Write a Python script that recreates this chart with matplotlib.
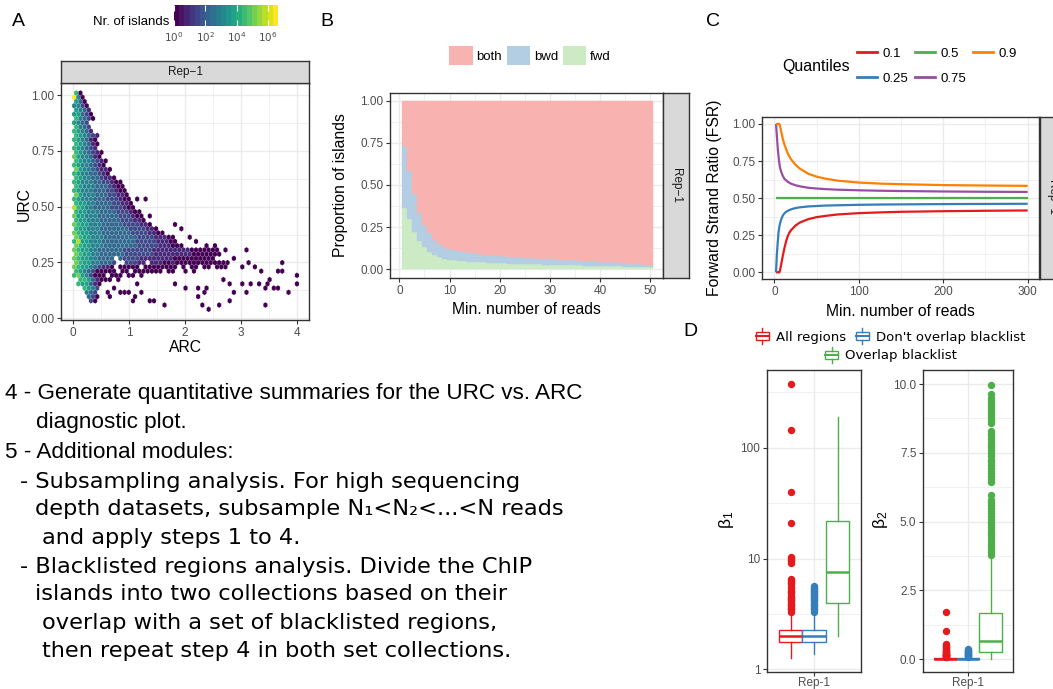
import numpy as np
import matplotlib
matplotlib.use("Agg")
import matplotlib.pyplot as plt
from matplotlib.colors import LogNorm
from matplotlib.patches import Rectangle, Patch
from matplotlib.lines import Line2D
from matplotlib.legend_handler import HandlerBase
from matplotlib.ticker import NullFormatter

plt.rcParams['font.family'] = ['Liberation Sans', 'DejaVu Sans']

# ======================= DATA =======================
# Panel A: hexbin URC vs ARC. One string per hex row (top row first);
# each char = colour level 0..9 (log-count = level*LOGMAX/9), '.' = empty hex.
HEX_X0, HEX_DX, HEX_Y0, HEX_DY = 0.02, 0.075, 0.04, 0.019
LOGMAX = 6.65
HEX_ROWS = [
    "60",
    "940",
    "530",
    "4420",
    "5431",
    "55320",
    "64320",
    "5432",
    "6432",
    "65431",
    "654321",
    "654310",
    "654310",
    "654321",
    "6543210",
    "7544310",
    "65443210",
    "65443210",
    "754432110",
    "654433210",
    "6544332110",
    "654443322100",
    "654443332100",
    "6544433322100",
    "7544433322110",
    "65444333222100.0.0",
    "65544333322110",
    "865443333222100",
    "6554443333222100",
    "75544433333222100.0",
    "65544433333222110",
    "7655444333332222110.....0",
    "65544433333332222110.....0",
    "7655444333333322221100",
    "765544433333333222211100...0",
    "6855444333333332222211100....0",
    "76554443333333322222111000.....0.0",
    "765544" "333333" "2222222" "111111111" "0000000" ".0....0",
    "765544" "333333" "2222222" "111111111" "0000000",
    "7655443333.32222" "111111110000" "000000" "....0",
    "7655443332..22211.1110010000000000000" "....0.......0",
    "76554" "32110.00000.0000000" "0.0.00.00.000" "...0..0",
    "6543" "200000.00.0000000.0" "0..0.0" "..............." "0...00",
    "67542" "000.000.00.0" "...................................." "0",
    ".66531000.0" "........................" "0" ".........." "0",
    ".655310" "........" "0" "........" "0" "............" "0..0.0.0.0" "......" "0",
    "..6542" "..." "0" "................" "0..0.0" "............." "0.00",
    "...432" ".." "0" ".." "000" ".." "0" ".............." "0" "......" "0..0" "........." "0",
    "...320" ".." "0" "....." "0" ".............." "0",
    "....20" "........" "0" "..." "00" "................." "0",
    "....................." "0" "........" "0" "..." "0" ".........." "0",
    "................................" "0",
]
colorbar_ticks = [0, 2, 4, 6]

# Panel B: proportion of islands by strand vs minimum number of reads
min_reads_b = list(range(1, 51))
prop_fwd = [0.366, 0.296, 0.219, 0.170, 0.132, 0.105, 0.085, 0.071, 0.063, 0.057,
            0.053, 0.049, 0.047, 0.045, 0.043, 0.041, 0.040, 0.038, 0.037, 0.036,
            0.035, 0.034, 0.033, 0.032, 0.031, 0.030, 0.029, 0.029, 0.028, 0.027,
            0.026, 0.026, 0.025, 0.024, 0.024, 0.023, 0.022, 0.022, 0.021, 0.021,
            0.020, 0.019, 0.018, 0.017, 0.016, 0.015, 0.014, 0.013, 0.012, 0.011]
prop_bwd = [0.367, 0.285, 0.230, 0.162, 0.129, 0.108, 0.091, 0.077, 0.069, 0.063,
            0.062, 0.060, 0.056, 0.054, 0.052, 0.050, 0.047, 0.047, 0.046, 0.043,
            0.042, 0.041, 0.040, 0.039, 0.038, 0.037, 0.036, 0.034, 0.034, 0.033,
            0.032, 0.031, 0.030, 0.030, 0.028, 0.028, 0.027, 0.026, 0.025, 0.024,
            0.023, 0.022, 0.022, 0.021, 0.020, 0.019, 0.018, 0.017, 0.015, 0.013]
strand_labels = ["both", "bwd", "fwd"]

# Panel C: FSR quantiles vs minimum number of reads
fsr_x = [2, 3, 4, 5, 6, 7, 8, 10, 12, 14, 16, 18, 20, 25, 30, 40, 50, 60, 75, 100, 125, 150, 200, 250, 300]
fsr_q10 = [0, 0, 0, 0, 0, 0.02, 0.05, 0.11, 0.165, 0.21, 0.245, 0.27, 0.285, 0.315, 0.335, 0.358, 0.372,
           0.38, 0.39, 0.399, 0.404, 0.408, 0.412, 0.415, 0.417]
fsr_q25 = [0.0, 0.12, 0.20, 0.27, 0.31, 0.335, 0.355, 0.382, 0.398, 0.408, 0.415, 0.42, 0.425, 0.433,
           0.438, 0.444, 0.447, 0.45, 0.452, 0.455, 0.457, 0.458, 0.46, 0.461, 0.462]
fsr_q50 = [0.5] * 25
fsr_q75 = [1.0, 0.92, 0.84, 0.78, 0.73, 0.70, 0.68, 0.65, 0.63, 0.62, 0.61, 0.603, 0.597, 0.587, 0.58,
           0.57, 0.565, 0.561, 0.557, 0.553, 0.55, 0.548, 0.545, 0.543, 0.542]
fsr_q90 = [1.0, 1.0, 1.0, 1.0, 1.0, 0.98, 0.95, 0.90, 0.86, 0.83, 0.80, 0.78, 0.76, 0.725, 0.70, 0.665,
           0.645, 0.632, 0.618, 0.605, 0.598, 0.594, 0.588, 0.585, 0.583]
quantile_labels = ["0.1", "0.25", "0.5", "0.75", "0.9"]

# Panel D: box-plot summaries (beta1 log scale, beta2 linear)
region_groups = ["All regions", "Don't overlap blacklist", "Overlap blacklist"]
b1_q1 = [1.76, 1.76, 3.93]
b1_med = [1.98, 1.98, 7.6]
b1_q3 = [2.28, 2.28, 22.0]
b1_lo = [1.26, 1.36, 2.0]
b1_hi = [3.26, 3.26, 189.0]
b1_out_all = [3.3, 3.4, 3.5, 3.6, 3.7, 3.8, 3.9, 4.0, 4.1, 4.2, 4.3, 4.4, 4.5, 4.6, 4.9, 5.0, 5.1, 5.3,
              5.5, 5.9, 6.0, 6.2, 6.4, 6.6, 9.2, 9.5, 9.8, 10.1, 10.4, 21.0, 40.0, 145.0, 378.0]
b1_out_nobl = [3.3, 3.4, 3.5, 3.6, 3.7, 3.8, 3.9, 4.0, 4.1, 4.2, 4.3, 4.4, 4.5, 4.6, 4.7, 4.8, 4.9,
               5.0, 5.1, 5.2, 5.3, 5.45, 5.6]
b1_out_bl = []
b2_q1 = [0.0, 0.0, 0.27]
b2_med = [0.01, 0.01, 0.64]
b2_q3 = [0.03, 0.03, 1.67]
b2_lo = [0.0, 0.0, 0.02]
b2_hi = [0.07, 0.07, 3.75]
b2_out_all = [0.08, 0.09, 0.10, 0.11, 0.12, 0.13, 0.14, 0.15, 0.16, 0.17, 0.18, 0.20, 0.22, 0.24,
              0.26, 0.28, 0.30, 0.33, 0.36, 0.40, 0.44, 0.48, 0.52, 0.55, 1.02, 1.72]
b2_out_nobl = [0.08, 0.10, 0.12, 0.14, 0.16, 0.18, 0.20, 0.22, 0.24, 0.26, 0.28, 0.30, 0.32, 0.35]
b2_out_bl = [3.8, 3.9, 4.0, 4.1, 4.2, 4.3, 4.4, 4.5, 4.6, 4.7, 4.8, 4.9, 5.0, 5.1, 5.2, 5.3, 5.4,
             5.5, 5.6, 5.7, 5.8, 5.95, 6.45, 6.55, 6.65, 6.75, 6.85, 6.95, 7.05, 7.15, 7.25, 7.4,
             7.5, 7.6, 7.7, 7.8, 7.9, 8.0, 8.1, 8.2, 8.3, 8.6, 8.7, 8.8, 8.9, 9.0, 9.1, 9.2, 9.3,
             9.4, 9.5, 9.65, 9.95]
rep_label = "Rep-1"

TEXT_LINES = [
    ("4 - Generate quantitative summaries for the URC vs. ARC", 5, 394, 'Liberation Sans'),
    ("diagnostic plot.", 36, 423, 'Liberation Sans'),
    ("5 - Additional modules:", 5, 453, 'Liberation Sans'),
    ("- Subsampling analysis. For high sequencing", 20, 482, 'DejaVu Sans'),
    ("depth datasets, subsample N\u2081<N\u2082<...<N reads", 35, 509, 'DejaVu Sans'),
    ("and apply steps 1 to 4.", 42, 538, 'DejaVu Sans'),
    ("- Blacklisted regions analysis. Divide the ChIP", 20, 567, 'DejaVu Sans'),
    ("islands into two collections based on their", 35, 594, 'DejaVu Sans'),
    ("overlap with a set of blacklisted regions,", 42, 623, 'DejaVu Sans'),
    ("then repeat step 4 in both set collections.", 42, 651, 'DejaVu Sans'),
]

# ======================= STYLE =======================
W, H = 1053, 689
DARK = '#333333'
TICK_C = '#4D4D4D'
GRID_C = '#EBEBEB'
STRIP_C = '#D9D9D9'
SET1 = {'red': '#E41A1C', 'blue': '#377EB8', 'green': '#4DAF4A', 'purple': '#984EA3', 'orange': '#FF7F00'}
C_BOTH, C_BWD, C_FWD = '#F8B2AF', '#B3CDE3', '#CCEBC5'

fig = plt.figure(figsize=(W / 100, H / 100), dpi=100)


def rect(l, t, r, b):
    return [l / W, 1 - b / H, (r - l) / W, (b - t) / H]


def fx(px):
    return px / W


def fy(py):
    return 1 - py / H


def gg_axes(r):
    ax = fig.add_axes(r)
    ax.set_facecolor('white')
    for s in ax.spines.values():
        s.set_color(DARK)
        s.set_linewidth(1.0)
    ax.tick_params(which='major', length=2.75, width=0.8, color=DARK, labelcolor=TICK_C,
                   labelsize=8.5, pad=2)
    ax.tick_params(which='minor', length=0)
    ax.grid(True, which='major', color=GRID_C, lw=1.0)
    ax.grid(True, which='minor', color=GRID_C, lw=0.5)
    ax.set_axisbelow(True)
    return ax


def strip(r, text, rotation=0):
    sa = fig.add_axes(r)
    sa.set_facecolor(STRIP_C)
    sa.set_xticks([])
    sa.set_yticks([])
    for s in sa.spines.values():
        s.set_color(DARK)
        s.set_linewidth(1.0)
    sa.text(0.5, 0.5, text, rotation=rotation, ha='center', va='center', fontsize=8.5,
            color='#1A1A1A', transform=sa.transAxes)
    return sa


def frac_ticks(ax):
    ax.set_yticks([0, 0.25, 0.5, 0.75, 1.0])
    ax.set_yticklabels(['0.00', '0.25', '0.50', '0.75', '1.00'])
    ax.set_yticks([0.125, 0.375, 0.625, 0.875], minor=True)


# ======================= PANEL A =======================
axA = gg_axes(rect(61, 83, 309, 320))
n_rows = len(HEX_ROWS)
hx, hy, hc = [], [], []
for i, row in enumerate(HEX_ROWS):
    r = n_rows - 1 - i
    x0 = HEX_X0 + (0.5 * HEX_DX if r % 2 else 0.0)
    for c, ch in enumerate(row):
        if ch != '.':
            hx.append(x0 + c * HEX_DX)
            hy.append(HEX_Y0 + r * HEX_DY)
            hc.append(10 ** (int(ch) * LOGMAX / 9))
axA.hexbin(hx, hy, C=hc, reduce_C_function=np.sum, gridsize=(54, 26),
           extent=(HEX_X0, HEX_X0 + 54 * HEX_DX, HEX_Y0, HEX_Y0 + 52 * HEX_DY),
           cmap='viridis', norm=LogNorm(vmin=1, vmax=10 ** LOGMAX),
           linewidths=0.35, edgecolors=(1, 1, 1, 0.18), zorder=2)
axA.set_xlim(-0.214, 4.21)
axA.set_ylim(-0.008, 1.054)
axA.set_xticks([0, 1, 2, 3, 4])
axA.set_xticks([0.5, 1.5, 2.5, 3.5], minor=True)
frac_ticks(axA)
strip(rect(61, 61, 309, 83), 'Rep\u22121')
fig.text(fx(24), fy(204), 'URC', rotation=90, ha='center', va='center', fontsize=11.3)
fig.text(fx(185), fy(347), 'ARC', ha='center', va='center', fontsize=11.3)

# colourbar legend
axCB = fig.add_axes(rect(174, 5, 278, 26))
axCB.imshow(np.linspace(0, 1, 20)[None, :], cmap='viridis', aspect='auto',
            extent=(0, LOGMAX, 0, 1), interpolation='nearest')
axCB.set_xlim(0, LOGMAX)
axCB.set_yticks([])
axCB.set_xticks(colorbar_ticks)
axCB.set_xticklabels([r'$10^{%d}$' % t for t in colorbar_ticks])
axCB.tick_params(axis='x', which='major', bottom=True, top=True, direction='in', color='white',
                 length=4, width=0.8, labelsize=7.5, labelcolor=TICK_C, pad=3)
for s in axCB.spines.values():
    s.set_visible(False)
fig.text(fx(169), fy(22), 'Nr. of islands', ha='right', va='center', fontsize=9.5)

# ======================= PANEL B =======================
axB = gg_axes(rect(390, 93, 663, 278))
fwd = np.array(prop_fwd)
bwd = np.array(prop_bwd)
both = 1.0 - fwd - bwd
axB.bar(min_reads_b, fwd, width=1.0, color=C_FWD, edgecolor=C_FWD, lw=0.3, zorder=2)
axB.bar(min_reads_b, bwd, bottom=fwd, width=1.0, color=C_BWD, edgecolor=C_BWD, lw=0.3, zorder=2)
axB.bar(min_reads_b, both, bottom=fwd + bwd, width=1.0, color=C_BOTH, edgecolor=C_BOTH, lw=0.3, zorder=2)
axB.set_xlim(-1.86, 52.5)
axB.set_ylim(-0.052, 1.046)
axB.set_xticks([0, 10, 20, 30, 40, 50])
axB.set_xticks([5, 15, 25, 35, 45], minor=True)
frac_ticks(axB)
strip(rect(663, 93, 689, 278), 'Rep\u22121', rotation=-90)
fig.text(fx(526), fy(309), 'Min. number of reads', ha='center', va='center', fontsize=11.3)
fig.text(fx(341), fy(185), 'Proportion of islands', rotation=90, ha='center', va='center', fontsize=11.3)
fig.legend([Patch(fc=C_BOTH), Patch(fc=C_BWD), Patch(fc=C_FWD)], strand_labels,
           loc='center', bbox_to_anchor=(fx(530), fy(55.5)), ncol=3, frameon=False, fontsize=9.5,
           handlelength=1.75, handleheight=1.75, handletextpad=0.3, columnspacing=0.35,
           borderpad=0, borderaxespad=0)

# ======================= PANEL C =======================
axC = gg_axes(rect(762, 117, 1039, 279))
q_series = [fsr_q10, fsr_q25, fsr_q50, fsr_q75, fsr_q90]
q_colors = [SET1['red'], SET1['blue'], SET1['green'], SET1['purple'], SET1['orange']]
for ys, col in zip(q_series, q_colors):
    axC.plot(fsr_x, ys, color=col, lw=1.6, zorder=3, solid_capstyle='butt')
axC.set_xlim(-14.6, 313.4)
axC.set_ylim(-0.045, 1.047)
axC.set_xticks([0, 100, 200, 300])
axC.set_xticks([50, 150, 250], minor=True)
frac_ticks(axC)
strip(rect(1040, 117, 1064, 279), 'Rep\u22121', rotation=-90)
fig.text(fx(900.7), fy(311.7), 'Min. number of reads', ha='center', va='center', fontsize=11.3)
fig.text(fx(715), fy(198), 'Forward Strand Ratio (FSR)', rotation=90, ha='center', va='center', fontsize=11.3)
fig.legend([Line2D([], [], color=c, lw=2.0) for c in q_colors], quantile_labels, ncol=3,
           loc='center', bbox_to_anchor=(fx(937), fy(66)), frameon=False, fontsize=9.5,
           handlelength=1.5, handletextpad=0.45, columnspacing=0.5, labelspacing=0.95,
           borderpad=0, borderaxespad=0)
fig.text(fx(816.5), fy(67), 'Quantiles', ha='center', va='center', fontsize=11.5)

# ======================= PANEL D =======================
d_colors = [SET1['red'], SET1['blue'], SET1['green']]
positions = [0.7, 1.0, 1.3]


def draw_boxes(ax, q1, med, q3, lo, hi, outs):
    for k in range(3):
        st = [dict(q1=q1[k], med=med[k], q3=q3[k], whislo=lo[k], whishi=hi[k],
                   fliers=np.array(outs[k], dtype=float), label='')]
        col = d_colors[k]
        ax.bxp(st, positions=[positions[k]], widths=0.3, patch_artist=True, showcaps=False,
               boxprops=dict(facecolor='white', edgecolor=col, lw=1.0),
               medianprops=dict(color=col, lw=1.8),
               whiskerprops=dict(color=col, lw=1.0),
               flierprops=dict(marker='o', markerfacecolor=col, markeredgecolor=col,
                               markersize=4.3, linestyle='none'),
               manage_ticks=False, zorder=3)
    ax.set_xlim(0.4, 1.6)
    ax.set_xticks([1.0])
    ax.set_xticklabels([rep_label])
    ax.tick_params(axis='x', pad=0.8)


ax1 = gg_axes(rect(767, 370, 861, 672))
ax1.set_yscale('log')
draw_boxes(ax1, b1_q1, b1_med, b1_q3, b1_lo, b1_hi, [b1_out_all, b1_out_nobl, b1_out_bl])
ax1.set_ylim(0.945, 504)
ax1.set_yticks([1, 10, 100])
ax1.set_yticklabels(['1', '10', '100'])
ax1.set_yticks([3.162, 31.62, 316.2], minor=True)
ax1.yaxis.set_minor_formatter(NullFormatter())
ax1.tick_params(which='minor', length=0)
ax1.grid(True, which='minor', axis='y', color=GRID_C, lw=0.5)

ax2 = gg_axes(rect(923, 370, 1013, 672))
draw_boxes(ax2, b2_q1, b2_med, b2_q3, b2_lo, b2_hi, [b2_out_all, b2_out_nobl, b2_out_bl])
ax2.set_ylim(-0.47, 10.51)
ax2.set_yticks([0, 2.5, 5, 7.5, 10])
ax2.set_yticklabels(['0.0', '2.5', '5.0', '7.5', '10.0'])
ax2.set_yticks([1.25, 3.75, 6.25, 8.75], minor=True)

fig.text(fx(727), fy(520), r'$\mathregular{\beta_1}$', rotation=90, ha='center', va='center', fontsize=12.5)
fig.text(fx(880), fy(520), r'$\mathregular{\beta_2}$', rotation=90, ha='center', va='center', fontsize=12.5)


class BoxKey(HandlerBase):
    def create_artists(self, legend, orig_handle, xdescent, ydescent, width, height, fontsize, trans):
        col = orig_handle.get_edgecolor()
        x0, y0 = -xdescent, -ydescent
        return [
            Rectangle((x0 + 0.1 * width, y0 + 0.22 * height), 0.8 * width, 0.56 * height,
                      facecolor='white', edgecolor=col, lw=1.0, transform=trans),
            Line2D([x0 + 0.1 * width, x0 + 0.9 * width], [y0 + 0.5 * height] * 2, color=col,
                   lw=1.5, transform=trans),
            Line2D([x0 + 0.5 * width] * 2, [y0 - 0.05 * height, y0 + 0.22 * height], color=col,
                   lw=1.0, transform=trans),
            Line2D([x0 + 0.5 * width] * 2, [y0 + 0.78 * height, y0 + 1.05 * height], color=col,
                   lw=1.0, transform=trans),
        ]


box_handles = [Rectangle((0, 0), 1, 1, facecolor='white', edgecolor=c) for c in d_colors]
leg_kw = dict(loc='center', frameon=False, prop={'family': 'DejaVu Sans', 'size': 9.5},
              handlelength=1.2, handleheight=1.3, handletextpad=0.45, columnspacing=0.6,
              borderpad=0, borderaxespad=0, handler_map={Rectangle: BoxKey()})
fig.legend(box_handles[:2], region_groups[:2], ncol=2, bbox_to_anchor=(fx(890), fy(336.5)), **leg_kw)
fig.legend(box_handles[2:], region_groups[2:], ncol=1, bbox_to_anchor=(fx(890.5), fy(355)), **leg_kw)

# ======================= PANEL LETTERS & TEXT =======================
for letter, px, py in [('A', 18, 21), ('B', 327, 21), ('C', 713, 21), ('D', 690, 331)]:
    fig.text(fx(px), fy(py), letter, ha='center', va='center', fontsize=14)

for txt, px, py, fam in TEXT_LINES:
    fig.text(fx(px), fy(py), txt, ha='left', va='center', fontsize=16.2, family=[fam, 'DejaVu Sans'])

fig.savefig('out.png', dpi=100)
